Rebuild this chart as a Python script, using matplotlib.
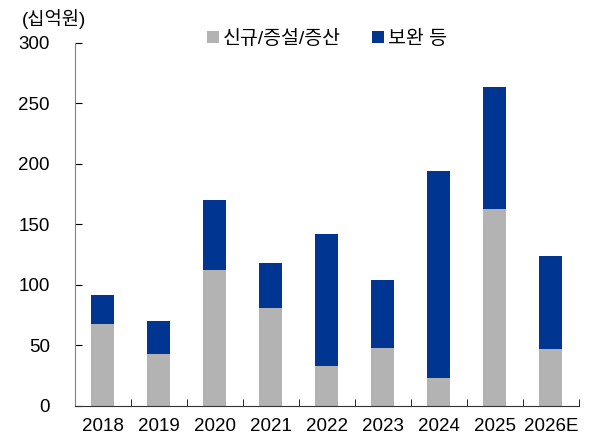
import matplotlib
matplotlib.use("Agg")
import matplotlib.pyplot as plt
import numpy as np

plt.rcParams['font.family'] = ['Liberation Sans', 'Noto Sans CJK KR']

years = ['2018', '2019', '2020', '2021', '2022', '2023', '2024', '2025', '2026E']
new_build = [68, 43, 112, 81, 33, 48, 23, 163, 47]   # 신규/증설/증산
upkeep = [24, 27, 58, 37, 109, 56, 171, 101, 77]       # 보완 등

gray = '#b3b3b3'
blue = '#003591'

fig = plt.figure(figsize=(6.12, 4.46), dpi=100)
ax = fig.add_axes([0.1225, 0.0897, 0.8235, 0.8139])

x = np.arange(len(years))
ax.bar(x, new_build, width=0.41, color=gray, label='신규/증설/증산')
ax.bar(x, upkeep, width=0.41, bottom=new_build, color=blue, label='보완 등')

ax.set_xlim(-0.5, len(years) - 0.5)
ax.set_ylim(0, 300)
ax.set_yticks(range(0, 301, 50))
ax.set_xticks(x)
ax.set_xticklabels(years)
ax.set_xticks(np.arange(-0.5, len(years)), minor=True)
ax.tick_params(axis='x', which='major', length=0, labelsize=13.5, pad=9)
ax.tick_params(axis='x', which='minor', direction='in', length=5)
ax.tick_params(axis='y', direction='in', length=5, labelsize=13.5, pad=18)

for s in ['top', 'right']:
    ax.spines[s].set_visible(False)
ax.spines['left'].set_color('#808080')
ax.spines['bottom'].set_color('#333333')

fig.text(0.036, 0.958, '(십억원)', fontsize=13.5, va='center', ha='left')
ax.legend(loc='upper center', bbox_to_anchor=(0.5, 1.085), ncol=2, frameon=False,
          fontsize=14, handlelength=0.6, handleheight=0.6, handletextpad=0.2,
          columnspacing=1.6)

fig.savefig('out.png', dpi=100)
